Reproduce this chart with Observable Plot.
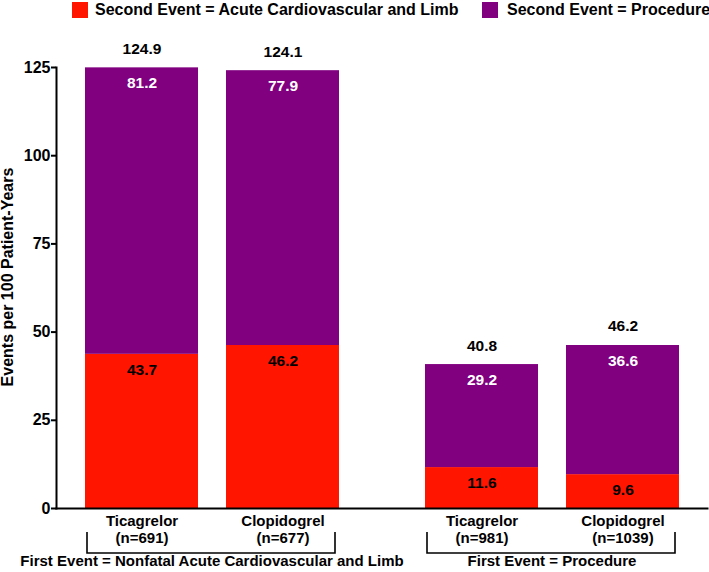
<!DOCTYPE html>
<html><head><meta charset="utf-8">
<script src="https://cdn.jsdelivr.net/npm/d3@7"></script>
<script src="https://cdn.jsdelivr.net/npm/@observablehq/plot@0.6"></script>
<style>
body{margin:0;background:#fff;font-family:"Liberation Sans",Arial,sans-serif;}
#legend{position:relative;width:709px;height:24px;font-weight:bold;font-size:16px;color:#000;}
.sw{position:absolute;top:2px;width:16px;height:16px;}
.lt{position:absolute;top:1px;line-height:18px;white-space:nowrap;}
#chart svg{display:block;}
</style></head><body>
<div id="legend"></div>
<div id="chart"></div>
<script>
const groups = ["First Event = Nonfatal Acute Cardiovascular and Limb", "First Event = Procedure"];
const drugs = ["Ticagrelor", "Clopidogrel"];
const sampleSizes = ["(n=691)", "(n=677)", "(n=981)", "(n=1039)"];
const events = ["Second Event = Acute Cardiovascular and Limb", "Second Event = Procedure"];
const colors = ["#ff1500", "#800080"];
const acuteValues = [43.7, 46.2, 11.6, 9.6];
const procedureValues = [81.2, 77.9, 29.2, 36.6];
const totalValues = [124.9, 124.1, 40.8, 46.2];
const yTicks = [0, 25, 50, 75, 100, 125];
const yLabel = "Events per 100 Patient-Years";

// tables built from the arrays
const bars = sampleSizes.map((n, i) => ({
  group: groups[Math.floor(i / 2)], drug: drugs[i % 2], n,
  acute: acuteValues[i], procedure: procedureValues[i], total: totalValues[i]
}));
const segments = bars.flatMap(b => [
  {group: b.group, drug: b.drug, event: events[0], value: b.acute},
  {group: b.group, drug: b.drug, event: events[1], value: b.procedure}
]);

// legend
const legend = document.getElementById("legend");
const legendPos = [[72, 95], [482, 507]];
events.forEach((e, i) => {
  const sw = document.createElement("div");
  sw.className = "sw"; sw.style.left = legendPos[i][0] + "px"; sw.style.background = colors[i];
  const t = document.createElement("div");
  t.className = "lt"; t.style.left = legendPos[i][1] + "px"; t.textContent = e;
  legend.append(sw, t);
});

// group brackets drawn once over the whole plot, from the fx and x scales
class Brackets extends Plot.Mark {
  constructor() { super(undefined, {}, {facet: "super"}); }
  render(index, scales, values, dimensions) {
    const {x, fx} = scales;
    const g = d3.create("svg:g").attr("fill", "none").attr("stroke", "#000").attr("stroke-width", 1.6);
    const base = dimensions.height - dimensions.marginBottom;
    for (const grp of groups) {
      const off = fx(grp) - dimensions.marginLeft;
      const x1 = off + x(drugs[0]) + 3;
      const x2 = off + x(drugs[1]) + x.bandwidth() - 3;
      g.append("path").attr("d", `M${x1},${base + 24}V${base + 45}H${x2}V${base + 24}`);
    }
    return g.node();
  }
}

const font = {fontSize: 15, fontWeight: "bold"};
const vfont = {fontSize: 15.5, fontWeight: "bold"};
const chart = Plot.plot({
  width: 709, height: 548,
  marginTop: 43, marginBottom: 64, marginLeft: 55, marginRight: 1,
  style: {fontFamily: "'Liberation Sans', Arial, sans-serif", fontSize: "16px", fontWeight: "bold", color: "#000", background: "#fff"},
  fx: {domain: groups, paddingInner: 0.085, paddingOuter: 0, axis: null, label: null},
  x: {domain: drugs, paddingInner: 0.2, paddingOuter: 0.2, axis: null, label: null},
  y: {domain: [0, 125]},
  color: {domain: events, range: colors},
  marks: [
    Plot.barY(segments, {fx: "group", x: "drug", y: "value", fill: "event"}),
    Plot.text(bars, {fx: "group", x: "drug", y: "acute", text: d => d.acute.toFixed(1), dy: 15.5, fill: "#000", ...vfont}),
    Plot.text(bars, {fx: "group", x: "drug", y: "total", text: d => d.procedure.toFixed(1), dy: 15.5, fill: "#fff", ...vfont}),
    Plot.text(bars, {fx: "group", x: "drug", y: "total", text: d => d.total.toFixed(1), dy: -19, fill: "#000", ...vfont}),
    Plot.text(bars, {fx: "group", x: "drug", text: d => d.drug + "\n" + d.n, frameAnchor: "bottom", lineAnchor: "top", dy: 5.5, lineHeight: 1.13, fill: "#000", ...font}),
    Plot.text(groups, {fx: d => d, text: d => d, frameAnchor: "bottom", dy: 57, fill: "#000", ...font}),
    Plot.axisY({ticks: yTicks, tickSize: 5, tickPadding: 1, strokeWidth: 2, fontSize: 16, fontWeight: "bold", label: null}),
    Plot.text([yLabel], {frameAnchor: "left", rotate: -90, dx: -55, dy: -11, lineAnchor: "top", textAnchor: "middle", text: d => d, fill: "#000", fontSize: 16, fontWeight: "bold", facet: "super"}),
    Plot.frame({anchor: "left", strokeWidth: 2, facet: "super"}),
    Plot.frame({anchor: "bottom", strokeWidth: 2, facet: "super"}),
    new Brackets()
  ]
});
document.getElementById("chart").append(chart);
</script>
</body></html>
